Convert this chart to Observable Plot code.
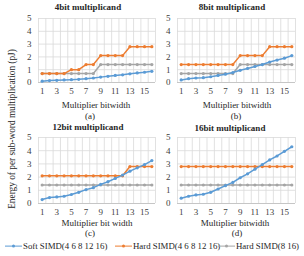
<!DOCTYPE html>
<html><head><meta charset="utf-8">
<script src="https://cdn.jsdelivr.net/npm/d3@7"></script>
<script src="https://cdn.jsdelivr.net/npm/@observablehq/plot@0.6"></script>
<style>
html,body{margin:0;padding:0;background:#fff;}
#wrap{position:relative;width:304px;height:256px;overflow:hidden;font-family:"Liberation Serif",serif;color:#262626;}
.t{position:absolute;white-space:nowrap;transform:translate(-50%,-50%);font-size:9px;line-height:1;}
.b{font-weight:bold;}
.p{position:absolute;}
#ylab{position:absolute;left:13px;top:129px;transform:translate(-50%,-50%) rotate(-90deg);font-size:9.3px;white-space:nowrap;line-height:1;}
#legend{position:absolute;left:0;top:246px;width:304px;font-size:8.8px;line-height:1;}
.li{position:absolute;top:0;transform:translateY(-50%);white-space:nowrap;display:flex;align-items:center;}
.sw{display:inline-block;width:17px;height:8px;position:relative;margin-right:1px;}
.sw i{position:absolute;left:0;right:0;top:3.5px;height:1.2px;}
.sw b{position:absolute;left:6.5px;top:2.5px;width:3.5px;height:3.5px;border-radius:50%;}
</style></head>
<body><div id="wrap"></div>
<script>
const bits = [1,2,3,4,5,6,7,8,9,10,11,12,13,14,15,16];
const xTicks = [1,3,5,7,9,11,13,15];
const yTicks = [0,1,2,3,4,5];
const seriesNames = ["Soft SIMD(4 6 8 12 16)", "Hard SIMD(4 6 8 12 16)", "Hard SIMD(8 16)"];
const colors = ["#5B9BD5", "#ED7D31", "#A5A5A5"];
const panelTitles = ["4bit multiplicand", "8bit multiplicand", "12bit multiplicand", "16bit multiplicand"];
const xLabels = ["Multiplier bitwidth", "Multiplier bitwidth", "Multiplier bit width", "Multiplier bitwidth"];
const subLabels = ["(a)", "(b)", "(c)", "(d)"];
const yLabel = "Energy of per sub-word multiplication  (pJ)";

// 4bit multiplicand
const softA = [0.10,0.15,0.17,0.20,0.22,0.25,0.30,0.35,0.42,0.48,0.55,0.60,0.68,0.75,0.80,0.87];
const hardA = [0.7,0.7,0.7,0.7,1.0,1.0,1.4,1.4,2.1,2.1,2.1,2.1,2.8,2.8,2.8,2.8];
const hard816A = [0.7,0.7,0.7,0.7,0.7,0.7,0.7,0.7,1.4,1.4,1.4,1.4,1.4,1.4,1.4,1.4];
// 8bit multiplicand
const softB = [0.20,0.30,0.35,0.38,0.45,0.55,0.65,0.78,0.95,1.10,1.25,1.40,1.60,1.75,1.90,2.10];
const hardB = [1.4,1.4,1.4,1.4,1.4,1.4,1.4,1.4,2.1,2.1,2.1,2.1,2.8,2.8,2.8,2.8];
const hard816B = [0.7,0.7,0.7,0.7,0.7,0.7,0.7,0.7,1.4,1.4,1.4,1.4,1.4,1.4,1.4,1.4];
// 12bit multiplicand
const softC = [0.30,0.45,0.50,0.55,0.68,0.85,1.05,1.20,1.45,1.65,1.90,2.15,2.45,2.70,2.95,3.25];
const hardC = [2.1,2.1,2.1,2.1,2.1,2.1,2.1,2.1,2.1,2.1,2.1,2.1,2.8,2.8,2.8,2.8];
const hard816C = [1.4,1.4,1.4,1.4,1.4,1.4,1.4,1.4,1.4,1.4,1.4,1.4,1.4,1.4,1.4,1.4];
// 16bit multiplicand
const softD = [0.40,0.55,0.65,0.70,0.85,1.10,1.35,1.60,1.95,2.25,2.60,2.95,3.30,3.60,3.95,4.30];
const hardD = [2.8,2.8,2.8,2.8,2.8,2.8,2.8,2.8,2.8,2.8,2.8,2.8,2.8,2.8,2.8,2.8];
const hard816D = [1.4,1.4,1.4,1.4,1.4,1.4,1.4,1.4,1.4,1.4,1.4,1.4,1.4,1.4,1.4,1.4];

const panelsData = [[softA,hardA,hard816A],[softB,hardB,hard816B],[softC,hardC,hard816C],[softD,hardD,hard816D]];

const layout = [
  {left:0, top:10, width:160, height:88, ml:38, mr:5, mt:8, mb:16, title:[88,7], xl:[96,105], sl:[90,115.5]},
  {left:150, top:10, width:150, height:88, ml:27, mr:5, mt:8, mb:16, title:[232,7], xl:[237,105], sl:[236,115.5]},
  {left:0, top:129, width:160, height:88, ml:38, mr:5, mt:8, mb:14, title:[88,127], xl:[97,223], sl:[90,232.5]},
  {left:150, top:129, width:150, height:88, ml:27, mr:5, mt:8, mb:14, title:[230,128], xl:[235,223], sl:[237,232.5]}
];

const wrap = document.getElementById("wrap");
function addText(txt, x, y, cls){
  const d = document.createElement("div");
  d.className = "t " + (cls||"");
  d.style.left = x + "px"; d.style.top = y + "px";
  d.textContent = txt; wrap.appendChild(d);
}
const bounds = d3.range(0.5, 17, 1);

panelsData.forEach((series, i) => {
  const L = layout[i];
  const rows = [];
  series.forEach((vals, s) => vals.forEach((v, k) => rows.push({x: bits[k], y: v, s: seriesNames[s]})));
  const marks = [
    Plot.ruleX(bounds, {stroke:"#d9d9d9", strokeWidth:0.8}),
    Plot.ruleY(yTicks.filter(d=>d>0), {stroke:"#d9d9d9", strokeWidth:0.8}),
    Plot.ruleY([0], {stroke:"#bfbfbf", strokeWidth:0.9}),
  ];
  [2,1,0].forEach(s => {
    const data = rows.filter(r => r.s === seriesNames[s]);
    marks.push(Plot.line(data, {x:"x", y:"y", stroke:colors[s], strokeWidth:1.5}));
    marks.push(Plot.dot(data, {x:"x", y:"y", fill:colors[s], r:1.6}));
  });
  const svg = Plot.plot({
    width:L.width, height:L.height,
    marginLeft:L.ml, marginRight:L.mr, marginTop:L.mt, marginBottom:L.mb,
    x:{type:"linear", domain:[0.5,16.5], ticks:xTicks, tickSize:0, tickPadding:5, label:null, tickFormat:d=>String(d)},
    y:{domain:[0,5], ticks:yTicks, tickSize:0, tickPadding:7, label:null, tickFormat:d=>String(d)},
    style:{fontFamily:"Liberation Serif, serif", fontSize:"9px", color:"#404040", background:"transparent", overflow:"visible"},
    marks
  });
  svg.classList.add("p");
  svg.style.left = L.left + "px"; svg.style.top = L.top + "px";
  wrap.appendChild(svg);
  addText(panelTitles[i], L.title[0], L.title[1], "b");
  addText(xLabels[i], L.xl[0], L.xl[1]);
  addText(subLabels[i], L.sl[0], L.sl[1]);
});

const yl = document.createElement("div");
yl.id = "ylab"; yl.textContent = yLabel; wrap.appendChild(yl);

const legend = document.createElement("div");
legend.id = "legend";
const legX = [5, 115, 218];
seriesNames.forEach((n, s) => {
  const it = document.createElement("div");
  it.className = "li"; it.style.left = legX[s] + "px";
  it.innerHTML = `<span class="sw"><i style="background:${colors[s]}"></i><b style="background:${colors[s]}"></b></span><span></span>`;
  it.lastChild.textContent = n;
  legend.appendChild(it);
});
wrap.appendChild(legend);
</script>
</body></html>
